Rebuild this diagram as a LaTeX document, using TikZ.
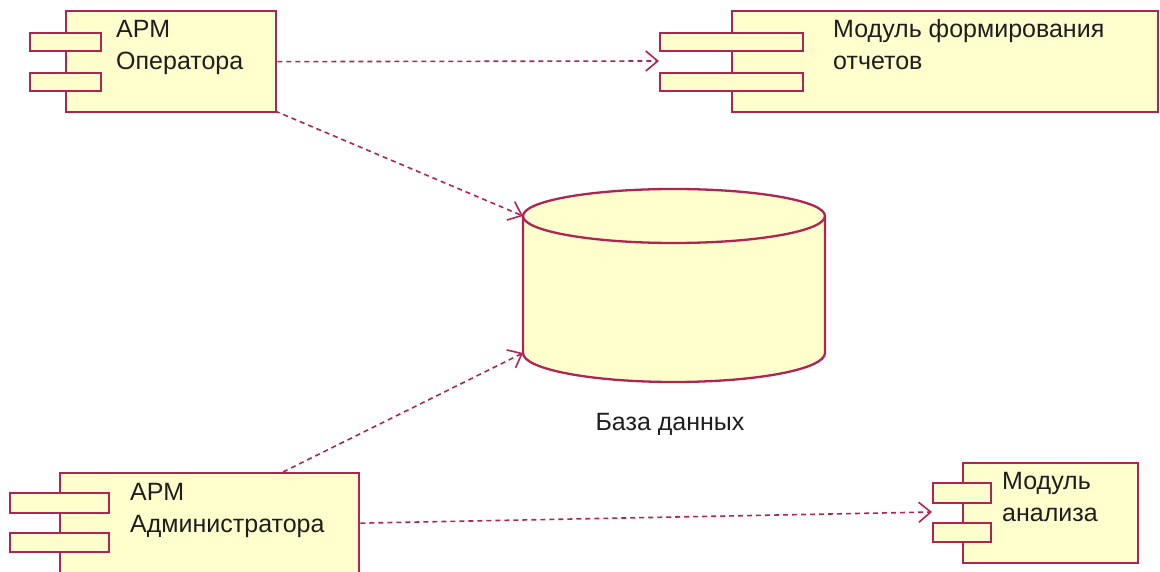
\documentclass[tikz,border=0pt]{standalone}
\usepackage{fontspec}
\setmainfont{Liberation Sans}
\usetikzlibrary{arrows.meta}
\definecolor{umlline}{RGB}{176,36,84}
\definecolor{umlfill}{RGB}{255,255,206}
\definecolor{umltext}{RGB}{30,30,30}
\tikzset{
  comp/.style={draw=umlline, fill=umlfill, line width=2.3pt, inner sep=0pt, anchor=north west},
  port/.style={comp, minimum height=18pt},
  label/.style={inner sep=0pt, anchor=base west, align=left, text=umltext, font=\fontsize{25}{32}\selectfont},
  depends/.style={draw=umlline, line width=1.6pt, dash pattern=on 5pt off 4pt,
    -{Straight Barb[length=12pt, width=20pt, line width=1.6pt]}}
}
\begin{document}
\begin{tikzpicture}[x=1pt, y=-1pt]
  \useasboundingbox (0,0) rectangle (1160,572);

  % АРМ Оператора
  \node[comp, minimum width=210pt, minimum height=101pt] (oper) at (65,10) {};
  \node[port, minimum width=71pt] (oper-p1) at (29,32) {};
  \node[port, minimum width=71pt] (oper-p2) at (29,72) {};
  \node[label] (oper-txt) at (116,70) {АРМ\\Оператора};
  \coordinate (oper-out) at (275,111);

  % Модуль формирования отчетов
  \node[comp, minimum width=426pt, minimum height=101pt] (rep) at (731,10) {};
  \node[port, minimum width=143pt] (rep-p1) at (659,32) {};
  \node[port, minimum width=143pt] (rep-p2) at (659,72) {};
  \node[label] (rep-txt) at (833,70) {Модуль формирования\\отчетов};
  \coordinate (rep-in) at (659,61);

  % База данных
  \fill[umlfill] (523,216) -- (523,353) arc[start angle=180, end angle=0, x radius=151, y radius=29]
    -- (825,216) arc[start angle=0, end angle=-180, x radius=151, y radius=27] -- cycle;
  \draw[umlline, line width=2.3pt] (674,216) ellipse[x radius=151, y radius=27];
  \draw[umlline, line width=2.3pt] (523,216) -- (523,353)
    arc[start angle=180, end angle=0, x radius=151, y radius=29] -- (825,216);
  \coordinate (db-top) at (523,216);
  \coordinate (db-bot) at (523,353);
  \node[inner sep=0pt, anchor=base, text=umltext, font=\fontsize{25}{32}\selectfont] (db-txt) at (670,430) {База данных};

  % АРМ Администратора
  \node[comp, minimum width=299pt, minimum height=100pt] (adm) at (59,472) {};
  \node[port, minimum width=99pt, minimum height=20pt] (adm-p1) at (9,492) {};
  \node[port, minimum width=99pt, minimum height=19pt] (adm-p2) at (9,532) {};
  \node[label] (adm-txt) at (130,532) {АРМ\\Администратора};
  \coordinate (adm-top) at (283,472);

  % Модуль анализа
  \node[comp, minimum width=175pt, minimum height=100pt] (ana) at (962,462) {};
  \node[port, minimum width=58pt, minimum height=20pt] (ana-p1) at (932,482) {};
  \node[port, minimum width=58pt, minimum height=19pt] (ana-p2) at (932,522) {};
  \node[label] (ana-txt) at (1002,521) {Модуль\\анализа};
  \coordinate (ana-in) at (932,512);

  % зависимости
  \draw[depends] (oper.east) -- (rep-in);
  \draw[depends] (oper-out) -- (db-top);
  \draw[depends] (adm-top) -- (db-bot);
  \draw[depends] (adm.east) -- (ana-in);
\end{tikzpicture}
\end{document}
